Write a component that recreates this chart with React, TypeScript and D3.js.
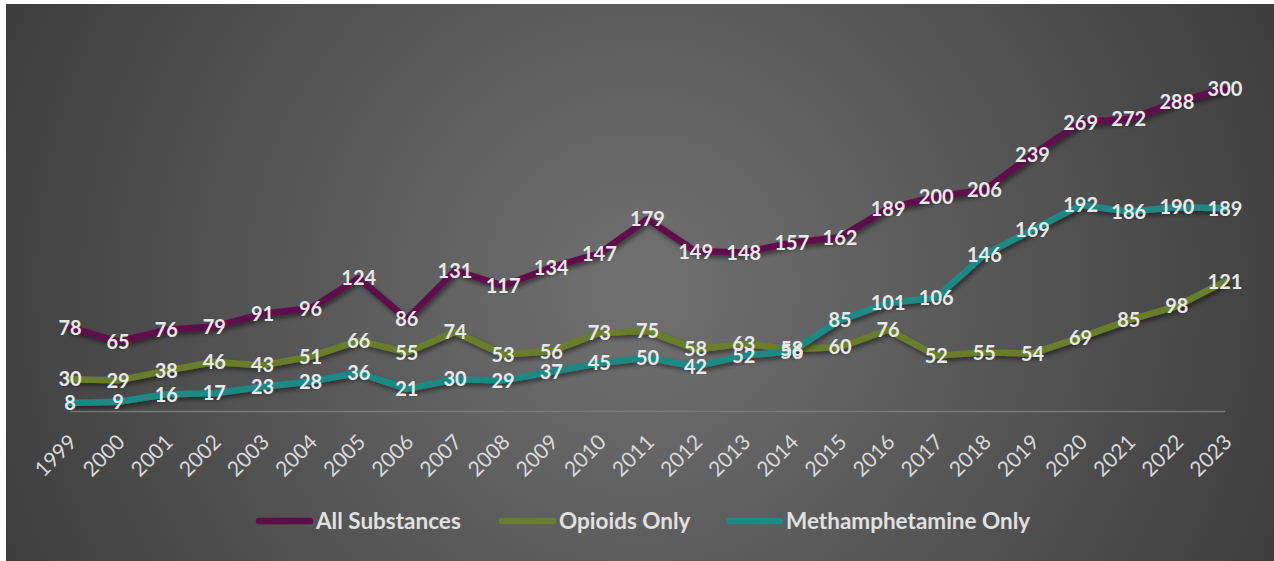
import React from "react";
import * as d3 from "d3";

const years = ["1999","2000","2001","2002","2003","2004","2005","2006","2007","2008","2009","2010","2011","2012","2013","2014","2015","2016","2017","2018","2019","2020","2021","2022","2023"];
const allSubstances = [78,65,76,79,91,96,124,86,131,117,134,147,179,149,148,157,162,189,200,206,239,269,272,288,300];
const opioidsOnly = [30,29,38,46,43,51,66,55,74,53,56,73,75,58,63,58,60,76,52,55,54,69,85,98,121];
const methOnly = [8,9,16,17,23,28,36,21,30,29,37,45,50,42,52,56,85,101,106,146,169,192,186,190,189];

const seriesNames = ["All Substances", "Opioids Only", "Methamphetamine Only"];
const seriesColors = ["#5f0c4b", "#6a7d2b", "#1f8985"];
const seriesValues = [allSubstances, opioidsOnly, methOnly];

const W = 1274;
const H = 561;
const FONT = "Lato, 'Open Sans', sans-serif";

export default function App() {
  const x = d3.scalePoint<string>().domain(years).range([70, 1225]);
  const y = d3.scaleLinear().domain([0, 350]).range([411.5, 35.25]);
  const line = d3
    .line<number>()
    .x((_, i) => x(years[i]) as number)
    .y((d) => y(d));

  const legendX = [256, 499, 726];
  const legendY = 521;

  return (
    <svg
      width={W}
      height={H}
      style={{ position: "absolute", left: 0, top: 0, display: "block" }}
    >
      <defs>
        <radialGradient id="bg" gradientUnits="userSpaceOnUse" cx={640} cy={290} r={700}>
          <stop offset="0" stopColor="#717171" />
          <stop offset="1" stopColor="#3d3d3d" />
        </radialGradient>
        <filter id="shadow" x="-10%" y="-10%" width="120%" height="130%">
          <feDropShadow dx="2" dy="3" stdDeviation="2" floodColor="#000" floodOpacity="0.45" />
        </filter>
      </defs>
      <rect x={0} y={0} width={W} height={H} fill="#fff" />
      <rect x={6} y={4} width={W - 6} height={H - 4} fill="url(#bg)" />

      {/* axis line */}
      <line
        x1={x(years[0])}
        x2={x(years[years.length - 1])}
        y1={y(0)}
        y2={y(0)}
        stroke="#7a7a7a"
        strokeWidth={1.5}
      />

      {/* x tick labels */}
      {years.map((yr) => (
        <text
          key={yr}
          transform={`translate(${(x(yr) as number) + 8},${y(0) + 32}) rotate(-45)`}
          textAnchor="end"
          fontFamily={FONT}
          fontSize={21}
          fill="#d9d9d9"
        >
          {yr}
        </text>
      ))}

      {/* lines */}
      {seriesValues.map((vals, si) => (
        <path
          key={si}
          d={line(vals) || ""}
          fill="none"
          stroke={seriesColors[si]}
          strokeWidth={6.5}
          strokeLinejoin="round"
          strokeLinecap="round"
          filter="url(#shadow)"
        />
      ))}

      {/* data labels */}
      {seriesValues.map((vals, si) =>
        vals.map((v, i) => (
          <text
            key={`${si}-${i}`}
            x={x(years[i])}
            y={y(v)}
            dy="0.36em"
            textAnchor="middle"
            fontFamily={FONT}
            fontWeight={700}
            fontSize={20}
            fill="#e8e8e8"
          >
            {v}
          </text>
        ))
      )}

      {/* legend */}
      {seriesNames.map((name, si) => (
        <g key={name}>
          <line
            x1={legendX[si] + 3}
            x2={legendX[si] + 54}
            y1={legendY}
            y2={legendY}
            stroke={seriesColors[si]}
            strokeWidth={6.5}
            strokeLinecap="round"
          />
          <text
            x={legendX[si] + 60}
            y={legendY}
            dy="0.36em"
            fontFamily={FONT}
            fontWeight={700}
            fontSize={22.5}
            fill="#e0e0e0"
          >
            {name}
          </text>
        </g>
      ))}
    </svg>
  );
}
